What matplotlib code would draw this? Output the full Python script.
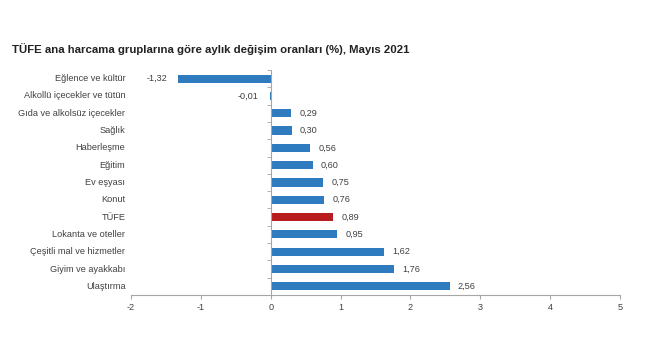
import numpy as np
import matplotlib.pyplot as plt
import matplotlib

matplotlib.rcParams['font.family'] = ['Liberation Sans', 'DejaVu Sans']

# ── 데이터 ─────────────────────────────────────────────
categories = ['Eğlence ve kültür', 'Alkollü içecekler ve tütün',
              'Gıda ve alkolsüz içecekler', 'Sağlık', 'Haberleşme',
              'Eğitim', 'Ev eşyası', 'Konut', 'TÜFE', 'Lokanta ve oteller',
              'Çeşitli mal ve hizmetler', 'Giyim ve ayakkabı', 'Ulaştırma']
values = [-1.32, -0.01, 0.29, 0.30, 0.56, 0.60, 0.75, 0.76, 0.89, 0.95,
          1.62, 1.76, 2.56]
highlight = 'TÜFE'
xticks = [-2, -1, 0, 1, 2, 3, 4, 5]

blue = '#2E7BC0'
red = '#B81C1C'
grey = '#A6A6A6'
txt = '#404040'

fig = plt.figure(figsize=(6.5, 3.6), dpi=100)
ax = fig.add_axes([0.2015, 0.1806, 0.7525, 0.625])

y = np.arange(len(categories))
colors = [red if c == highlight else blue for c in categories]
ax.barh(y, values, height=0.47, color=colors, zorder=2)

for yi, v in zip(y, values):
    s = f'{v:.2f}'.replace('.', ',')
    if v < 0:
        ax.annotate(s, (v, yi), xytext=(-8, 0), textcoords='offset points',
                    ha='right', va='center', fontsize=6.6, color=txt)
    else:
        ax.annotate(s, (v, yi), xytext=(6, 0), textcoords='offset points',
                    ha='left', va='center', fontsize=6.6, color=txt)

ax.set_xlim(-2, 5)
ax.set_ylim(len(categories) - 0.5, -0.5)
ax.set_xticks(xticks)
ax.set_xticklabels([str(t) for t in xticks], fontsize=6.6, color=txt)

# y축은 0 위치에
ax.spines['left'].set_position(('data', 0))
ax.spines['left'].set_color(grey)
ax.spines['bottom'].set_color(grey)
ax.spines['top'].set_visible(False)
ax.spines['right'].set_visible(False)

ax.set_yticks(y)
ax.set_yticklabels([])
ax.tick_params(axis='y', length=0)
ax.set_yticks(np.arange(len(categories) + 1) - 0.5, minor=True)
ax.tick_params(axis='y', which='minor', length=3, direction='out', color=grey)
ax.tick_params(axis='x', length=3, direction='out', color=grey, pad=3)

# 카테고리 라벨 (축 왼쪽)
for yi, c in zip(y, categories):
    ax.annotate(c, (-2, yi), xytext=(-4, 0), textcoords='offset points',
                ha='right', va='center', fontsize=6.6, color=txt,
                annotation_clip=False)

fig.text(0.018, 0.865, 'TÜFE ana harcama gruplarına göre aylık değişim oranları (%), Mayıs 2021',
         fontsize=8.2, fontweight='bold', color='#222222', ha='left', va='center')

fig.savefig('out.png', dpi=100)
